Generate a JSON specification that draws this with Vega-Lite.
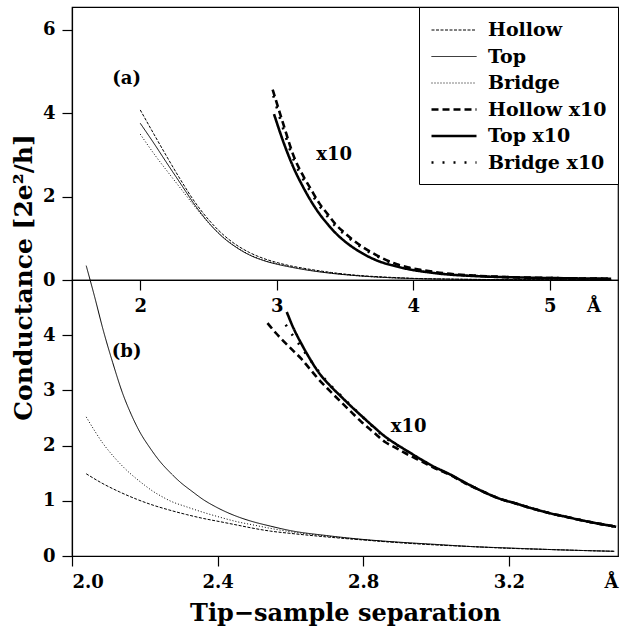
{
  "$schema": "https://vega.github.io/schema/vega-lite/v6.json",
  "padding": {"left": 10, "top": 5, "right": 2, "bottom": 5},
  "spacing": 0,
  "bounds": "flush",
  "config": {
    "font": "DejaVu Serif",
    "view": {"stroke": "black", "strokeWidth": 1.2},
    "axis": {"grid": false, "domainColor": "black", "tickColor": "black", "labelColor": "black", "titleColor": "black",
      "labelFont": "DejaVu Serif", "labelFontWeight": "bold", "labelFontSize": 18, "tickSize": 10, "labelPadding": 7,
      "domainWidth": 1.2, "tickWidth": 1.2, "titleFont": "DejaVu Serif", "titleFontWeight": "bold", "titleFontSize": 24},
    "legend": {"orient": "top-right", "offset": 0, "strokeColor": "black", "fillColor": "white", "padding": 11,
      "symbolType": "stroke", "symbolSize": 2025, "symbolStrokeColor": "black", "labelFontSize": 19, "labelFont": "DejaVu Serif",
      "labelFontWeight": "bold", "labelColor": "black", "rowPadding": 4.5, "labelOffset": 10}
  },
  "datasets": {
    "a": [
      {"series":"Hollow","x":2.0,"y":4.08},{"series":"Hollow","x":2.1,"y":3.50},{"series":"Hollow","x":2.2,"y":2.93},{"series":"Hollow","x":2.3,"y":2.38},{"series":"Hollow","x":2.4,"y":1.87},{"series":"Hollow","x":2.5,"y":1.45},{"series":"Hollow","x":2.6,"y":1.11},{"series":"Hollow","x":2.7,"y":0.85},{"series":"Hollow","x":2.8,"y":0.66},{"series":"Hollow","x":2.9,"y":0.52},{"series":"Hollow","x":3.0,"y":0.42},{"series":"Hollow","x":3.1,"y":0.34},{"series":"Hollow","x":3.2,"y":0.28},{"series":"Hollow","x":3.4,"y":0.18},{"series":"Hollow","x":3.6,"y":0.11},{"series":"Hollow","x":3.8,"y":0.07},{"series":"Hollow","x":4.0,"y":0.04},{"series":"Hollow","x":4.3,"y":0.02},{"series":"Hollow","x":4.7,"y":0.01},{"series":"Hollow","x":5.1,"y":0.005},{"series":"Hollow","x":5.45,"y":0.0},
      {"series":"Top","x":2.0,"y":3.76},{"series":"Top","x":2.1,"y":3.28},{"series":"Top","x":2.2,"y":2.78},{"series":"Top","x":2.3,"y":2.29},{"series":"Top","x":2.4,"y":1.80},{"series":"Top","x":2.5,"y":1.38},{"series":"Top","x":2.6,"y":1.04},{"series":"Top","x":2.7,"y":0.79},{"series":"Top","x":2.8,"y":0.60},{"series":"Top","x":2.9,"y":0.47},{"series":"Top","x":3.0,"y":0.38},{"series":"Top","x":3.1,"y":0.31},{"series":"Top","x":3.2,"y":0.25},{"series":"Top","x":3.4,"y":0.16},{"series":"Top","x":3.6,"y":0.10},{"series":"Top","x":3.8,"y":0.06},{"series":"Top","x":4.0,"y":0.035},{"series":"Top","x":4.3,"y":0.018},{"series":"Top","x":4.7,"y":0.009},{"series":"Top","x":5.1,"y":0.004},{"series":"Top","x":5.45,"y":0.0},
      {"series":"Bridge","x":2.0,"y":3.50},{"series":"Bridge","x":2.1,"y":3.03},{"series":"Bridge","x":2.2,"y":2.60},{"series":"Bridge","x":2.3,"y":2.18},{"series":"Bridge","x":2.4,"y":1.76},{"series":"Bridge","x":2.5,"y":1.37},{"series":"Bridge","x":2.6,"y":1.05},{"series":"Bridge","x":2.7,"y":0.80},{"series":"Bridge","x":2.8,"y":0.61},{"series":"Bridge","x":2.9,"y":0.48},{"series":"Bridge","x":3.0,"y":0.39},{"series":"Bridge","x":3.1,"y":0.32},{"series":"Bridge","x":3.2,"y":0.26},{"series":"Bridge","x":3.4,"y":0.17},{"series":"Bridge","x":3.6,"y":0.10},{"series":"Bridge","x":3.8,"y":0.06},{"series":"Bridge","x":4.0,"y":0.036},{"series":"Bridge","x":4.3,"y":0.019},{"series":"Bridge","x":4.7,"y":0.009},{"series":"Bridge","x":5.1,"y":0.004},{"series":"Bridge","x":5.45,"y":0.0},
      {"series":"Hollow x10","x":2.97,"y":4.57},{"series":"Hollow x10","x":3.05,"y":3.72},{"series":"Hollow x10","x":3.128,"y":2.94},{"series":"Hollow x10","x":3.19,"y":2.52},{"series":"Hollow x10","x":3.25,"y":2.18},{"series":"Hollow x10","x":3.31,"y":1.85},{"series":"Hollow x10","x":3.373,"y":1.58},{"series":"Hollow x10","x":3.43,"y":1.34},{"series":"Hollow x10","x":3.494,"y":1.14},{"series":"Hollow x10","x":3.617,"y":0.82},{"series":"Hollow x10","x":3.74,"y":0.58},{"series":"Hollow x10","x":3.86,"y":0.40},{"series":"Hollow x10","x":3.98,"y":0.29},{"series":"Hollow x10","x":4.1,"y":0.22},{"series":"Hollow x10","x":4.23,"y":0.16},{"series":"Hollow x10","x":4.42,"y":0.11},{"series":"Hollow x10","x":4.6,"y":0.08},{"series":"Hollow x10","x":4.79,"y":0.06},{"series":"Hollow x10","x":5.15,"y":0.04},{"series":"Hollow x10","x":5.45,"y":0.03},
      {"series":"Top x10","x":2.98,"y":3.98},{"series":"Top x10","x":3.05,"y":3.30},{"series":"Top x10","x":3.128,"y":2.66},{"series":"Top x10","x":3.19,"y":2.25},{"series":"Top x10","x":3.25,"y":1.90},{"series":"Top x10","x":3.31,"y":1.60},{"series":"Top x10","x":3.373,"y":1.34},{"series":"Top x10","x":3.43,"y":1.13},{"series":"Top x10","x":3.494,"y":0.94},{"series":"Top x10","x":3.617,"y":0.66},{"series":"Top x10","x":3.74,"y":0.46},{"series":"Top x10","x":3.86,"y":0.34},{"series":"Top x10","x":3.98,"y":0.25},{"series":"Top x10","x":4.1,"y":0.19},{"series":"Top x10","x":4.23,"y":0.14},{"series":"Top x10","x":4.42,"y":0.10},{"series":"Top x10","x":4.6,"y":0.075},{"series":"Top x10","x":4.79,"y":0.06},{"series":"Top x10","x":5.15,"y":0.04},{"series":"Top x10","x":5.45,"y":0.03},
      {"series":"Bridge x10","x":2.975,"y":4.42},{"series":"Bridge x10","x":3.05,"y":3.60},{"series":"Bridge x10","x":3.128,"y":2.85},{"series":"Bridge x10","x":3.19,"y":2.44},{"series":"Bridge x10","x":3.25,"y":2.10},{"series":"Bridge x10","x":3.31,"y":1.79},{"series":"Bridge x10","x":3.373,"y":1.52},{"series":"Bridge x10","x":3.43,"y":1.29},{"series":"Bridge x10","x":3.494,"y":1.10},{"series":"Bridge x10","x":3.617,"y":0.79},{"series":"Bridge x10","x":3.74,"y":0.56},{"series":"Bridge x10","x":3.86,"y":0.39},{"series":"Bridge x10","x":3.98,"y":0.28},{"series":"Bridge x10","x":4.1,"y":0.21},{"series":"Bridge x10","x":4.23,"y":0.15},{"series":"Bridge x10","x":4.42,"y":0.105},{"series":"Bridge x10","x":4.6,"y":0.078},{"series":"Bridge x10","x":4.79,"y":0.058},{"series":"Bridge x10","x":5.15,"y":0.04},{"series":"Bridge x10","x":5.45,"y":0.03}
    ],
    "b": [
      {"series":"Top","x":2.039,"y":5.26},{"series":"Top","x":2.062,"y":4.70},{"series":"Top","x":2.085,"y":4.11},{"series":"Top","x":2.112,"y":3.50},{"series":"Top","x":2.14,"y":2.93},{"series":"Top","x":2.163,"y":2.56},{"series":"Top","x":2.186,"y":2.25},{"series":"Top","x":2.214,"y":1.96},{"series":"Top","x":2.242,"y":1.71},{"series":"Top","x":2.27,"y":1.51},{"series":"Top","x":2.297,"y":1.34},{"series":"Top","x":2.33,"y":1.17},{"series":"Top","x":2.361,"y":1.02},{"series":"Top","x":2.395,"y":0.89},{"series":"Top","x":2.426,"y":0.79},{"series":"Top","x":2.46,"y":0.70},{"series":"Top","x":2.49,"y":0.635},{"series":"Top","x":2.546,"y":0.54},{"series":"Top","x":2.6,"y":0.46},{"series":"Top","x":2.7,"y":0.37},{"series":"Top","x":2.8,"y":0.30},{"series":"Top","x":2.9,"y":0.25},{"series":"Top","x":3.0,"y":0.21},{"series":"Top","x":3.1,"y":0.17},{"series":"Top","x":3.2,"y":0.145},{"series":"Top","x":3.3,"y":0.12},{"series":"Top","x":3.4,"y":0.10},{"series":"Top","x":3.49,"y":0.085},
      {"series":"Bridge","x":2.039,"y":2.52},{"series":"Bridge","x":2.062,"y":2.27},{"series":"Bridge","x":2.085,"y":2.04},{"series":"Bridge","x":2.108,"y":1.85},{"series":"Bridge","x":2.131,"y":1.68},{"series":"Bridge","x":2.154,"y":1.53},{"series":"Bridge","x":2.177,"y":1.40},{"series":"Bridge","x":2.2,"y":1.28},{"series":"Bridge","x":2.223,"y":1.17},{"series":"Bridge","x":2.246,"y":1.08},{"series":"Bridge","x":2.269,"y":1.00},{"series":"Bridge","x":2.315,"y":0.89},{"series":"Bridge","x":2.361,"y":0.79},{"series":"Bridge","x":2.408,"y":0.70},{"series":"Bridge","x":2.454,"y":0.62},{"series":"Bridge","x":2.5,"y":0.56},{"series":"Bridge","x":2.546,"y":0.50},{"series":"Bridge","x":2.6,"y":0.44},{"series":"Bridge","x":2.7,"y":0.36},{"series":"Bridge","x":2.8,"y":0.295},{"series":"Bridge","x":2.9,"y":0.245},{"series":"Bridge","x":3.0,"y":0.205},{"series":"Bridge","x":3.1,"y":0.17},{"series":"Bridge","x":3.2,"y":0.14},{"series":"Bridge","x":3.3,"y":0.12},{"series":"Bridge","x":3.4,"y":0.10},{"series":"Bridge","x":3.49,"y":0.085},
      {"series":"Hollow","x":2.039,"y":1.49},{"series":"Hollow","x":2.085,"y":1.31},{"series":"Hollow","x":2.131,"y":1.16},{"series":"Hollow","x":2.177,"y":1.03},{"series":"Hollow","x":2.223,"y":0.92},{"series":"Hollow","x":2.269,"y":0.83},{"series":"Hollow","x":2.315,"y":0.75},{"series":"Hollow","x":2.361,"y":0.68},{"series":"Hollow","x":2.408,"y":0.62},{"series":"Hollow","x":2.454,"y":0.56},{"series":"Hollow","x":2.5,"y":0.50},{"series":"Hollow","x":2.546,"y":0.45},{"series":"Hollow","x":2.6,"y":0.41},{"series":"Hollow","x":2.7,"y":0.345},{"series":"Hollow","x":2.8,"y":0.29},{"series":"Hollow","x":2.9,"y":0.24},{"series":"Hollow","x":3.0,"y":0.20},{"series":"Hollow","x":3.1,"y":0.17},{"series":"Hollow","x":3.2,"y":0.14},{"series":"Hollow","x":3.3,"y":0.12},{"series":"Hollow","x":3.4,"y":0.10},{"series":"Hollow","x":3.49,"y":0.085},
      {"series":"Top x10","x":2.59,"y":4.42},{"series":"Top x10","x":2.609,"y":4.12},{"series":"Top x10","x":2.629,"y":3.86},{"series":"Top x10","x":2.652,"y":3.59},{"series":"Top x10","x":2.675,"y":3.35},{"series":"Top x10","x":2.707,"y":3.10},{"series":"Top x10","x":2.739,"y":2.89},{"series":"Top x10","x":2.767,"y":2.71},{"series":"Top x10","x":2.795,"y":2.54},{"series":"Top x10","x":2.827,"y":2.35},{"series":"Top x10","x":2.859,"y":2.17},{"series":"Top x10","x":2.892,"y":2.02},{"series":"Top x10","x":2.924,"y":1.89},{"series":"Top x10","x":2.956,"y":1.76},{"series":"Top x10","x":2.988,"y":1.64},{"series":"Top x10","x":3.044,"y":1.46},{"series":"Top x10","x":3.08,"y":1.33},{"series":"Top x10","x":3.125,"y":1.18},{"series":"Top x10","x":3.17,"y":1.05},{"series":"Top x10","x":3.22,"y":0.95},{"series":"Top x10","x":3.265,"y":0.86},{"series":"Top x10","x":3.31,"y":0.78},{"series":"Top x10","x":3.357,"y":0.71},{"series":"Top x10","x":3.42,"y":0.62},{"series":"Top x10","x":3.495,"y":0.53},
      {"series":"Hollow x10","x":2.537,"y":4.22},{"series":"Hollow x10","x":2.56,"y":4.04},{"series":"Hollow x10","x":2.583,"y":3.88},{"series":"Hollow x10","x":2.606,"y":3.73},{"series":"Hollow x10","x":2.629,"y":3.58},{"series":"Hollow x10","x":2.652,"y":3.40},{"series":"Hollow x10","x":2.675,"y":3.22},{"series":"Hollow x10","x":2.707,"y":3.00},{"series":"Hollow x10","x":2.739,"y":2.79},{"series":"Hollow x10","x":2.767,"y":2.61},{"series":"Hollow x10","x":2.795,"y":2.43},{"series":"Hollow x10","x":2.827,"y":2.25},{"series":"Hollow x10","x":2.859,"y":2.07},{"series":"Hollow x10","x":2.892,"y":1.95},{"series":"Hollow x10","x":2.924,"y":1.83},{"series":"Hollow x10","x":2.956,"y":1.73},{"series":"Hollow x10","x":2.988,"y":1.62},{"series":"Hollow x10","x":3.044,"y":1.45},{"series":"Hollow x10","x":3.08,"y":1.32},{"series":"Hollow x10","x":3.125,"y":1.18},{"series":"Hollow x10","x":3.17,"y":1.05},{"series":"Hollow x10","x":3.22,"y":0.95},{"series":"Hollow x10","x":3.265,"y":0.86},{"series":"Hollow x10","x":3.31,"y":0.78},{"series":"Hollow x10","x":3.357,"y":0.71},{"series":"Hollow x10","x":3.42,"y":0.62},{"series":"Hollow x10","x":3.495,"y":0.53},
      {"series":"Bridge x10","x":2.587,"y":4.19},{"series":"Bridge x10","x":2.608,"y":3.98},{"series":"Bridge x10","x":2.629,"y":3.79},{"series":"Bridge x10","x":2.66,"y":3.50},{"series":"Bridge x10","x":2.689,"y":3.25},{"series":"Bridge x10","x":2.712,"y":3.08},{"series":"Bridge x10","x":2.74,"y":2.90},{"series":"Bridge x10","x":2.767,"y":2.72},{"series":"Bridge x10","x":2.795,"y":2.54},{"series":"Bridge x10","x":2.827,"y":2.34},{"series":"Bridge x10","x":2.859,"y":2.15},{"series":"Bridge x10","x":2.892,"y":2.01},{"series":"Bridge x10","x":2.924,"y":1.88},{"series":"Bridge x10","x":2.956,"y":1.76},{"series":"Bridge x10","x":2.988,"y":1.63},{"series":"Bridge x10","x":3.044,"y":1.455},{"series":"Bridge x10","x":3.08,"y":1.32},{"series":"Bridge x10","x":3.125,"y":1.18},{"series":"Bridge x10","x":3.17,"y":1.05},{"series":"Bridge x10","x":3.22,"y":0.95},{"series":"Bridge x10","x":3.265,"y":0.86},{"series":"Bridge x10","x":3.31,"y":0.78},{"series":"Bridge x10","x":3.357,"y":0.71},{"series":"Bridge x10","x":3.42,"y":0.62},{"series":"Bridge x10","x":3.495,"y":0.53}
    ],
    "labels_a": [{"x":1.9,"y":4.83,"text":"(a)"},{"x":3.42,"y":2.99,"text":"x10"}],
    "labels_b": [{"x":2.15,"y":3.70,"text":"(b)"},{"x":2.925,"y":2.34,"text":"x10"}]
  },
  "vconcat": [
    {
      "width": 546, "height": 273,
      "resolve": {"scale": {"strokeDash": "independent", "strokeWidth": "independent"}},
      "layer": [
        {
          "data": {"name": "a"},
          "mark": {"type": "line", "color": "black", "strokeCap": "butt", "interpolate": "monotone"},
          "encoding": {
            "x": {"field": "x", "type": "quantitative", "scale": {"domain": [1.5, 5.5], "nice": false, "zero": false},
              "axis": {"values": [2, 3, 4, 5, 5.32], "labelExpr": "datum.value > 5.2 ? 'Å' : format(datum.value, 'd')", "title": null,
                "tickOpacity": {"condition": {"test": "datum.value > 5.2", "value": 0}, "value": 1}}},
            "y": {"field": "y", "type": "quantitative", "scale": {"domain": [0, 6.55], "nice": false},
              "axis": {"values": [0, 2, 4, 6], "title": "Conductance [2e²/h]", "titleY": 270, "titlePadding": 6, "titleFontSize": 25}},
            "strokeDash": {"field": "series", "type": "ordinal",
              "scale": {"type": "ordinal", "domain": ["Hollow", "Top", "Bridge", "Hollow x10", "Top x10", "Bridge x10"],
                "range": [[3, 1.5], [1, 0], [1, 2], [7, 4], [1, 0], [2, 9]]},
              "legend": {"title": null, "encode": {"symbols": {"update": {"y": {"value": 12}}}, "labels": {"update": {"y": {"value": 12}}}}}},
            "strokeWidth": {"field": "series", "type": "ordinal",
              "scale": {"type": "ordinal", "domain": ["Hollow", "Top", "Bridge", "Hollow x10", "Top x10", "Bridge x10"],
                "range": [1, 1, 1, 2.6, 2.6, 2.6]},
              "legend": {"title": null, "encode": {"symbols": {"update": {"y": {"value": 12}}}, "labels": {"update": {"y": {"value": 12}}}}}}
          }
        },
        {
          "data": {"name": "labels_a"},
          "mark": {"type": "text", "fontWeight": "bold", "fontSize": 18, "font": "DejaVu Serif", "color": "black"},
          "encoding": {
            "x": {"field": "x", "type": "quantitative"},
            "y": {"field": "y", "type": "quantitative"},
            "text": {"field": "text"}
          }
        }
      ]
    },
    {
      "width": 546, "height": 276,
      "resolve": {"scale": {"strokeDash": "independent", "strokeWidth": "independent"}},
      "layer": [
        {
          "data": {"name": "b"},
          "mark": {"type": "line", "color": "black", "strokeCap": "butt", "interpolate": "monotone"},
          "encoding": {
            "x": {"field": "x", "type": "quantitative", "scale": {"domain": [2.0, 3.5], "nice": false, "zero": false},
              "axis": {"values": [2.0, 2.4, 2.8, 3.2, 3.5], "labelExpr": "datum.value > 3.4 ? 'Å' : format(datum.value, '.1f')",
                "title": "Tip−sample separation", "titlePadding": 10,
                "tickOpacity": {"condition": {"test": "datum.value > 3.4", "value": 0}, "value": 1}}},
            "y": {"field": "y", "type": "quantitative", "scale": {"domain": [0, 5.0], "nice": false},
              "axis": {"values": [0, 1, 2, 3, 4], "title": null}},
            "strokeDash": {"field": "series", "type": "ordinal",
              "scale": {"type": "ordinal", "domain": ["Hollow", "Top", "Bridge", "Hollow x10", "Top x10", "Bridge x10"],
                "range": [[3, 1.5], [1, 0], [1, 2], [7, 4], [1, 0], [2, 9]]},
              "legend": null},
            "strokeWidth": {"field": "series", "type": "ordinal",
              "scale": {"type": "ordinal", "domain": ["Hollow", "Top", "Bridge", "Hollow x10", "Top x10", "Bridge x10"],
                "range": [1, 1, 1, 2.6, 2.6, 2.6]},
              "legend": null}
          }
        },
        {
          "data": {"name": "labels_b"},
          "mark": {"type": "text", "fontWeight": "bold", "fontSize": 18, "font": "DejaVu Serif", "color": "black"},
          "encoding": {
            "x": {"field": "x", "type": "quantitative"},
            "y": {"field": "y", "type": "quantitative"},
            "text": {"field": "text"}
          }
        }
      ]
    }
  ]
}
